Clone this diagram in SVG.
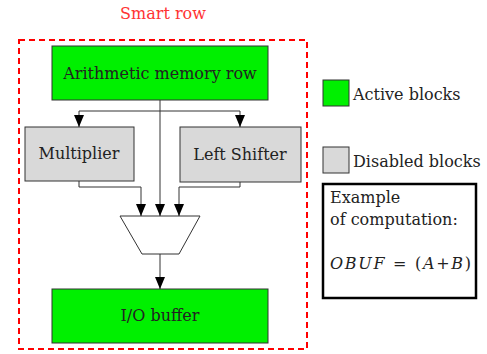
<svg xmlns="http://www.w3.org/2000/svg" width="487" height="354" viewBox="0 0 487 354">
<style>
text{font-family:'DejaVu Serif',serif;font-size:16px;fill:#222}
.g{fill:#00f000;stroke:#333;stroke-width:1}
.d{fill:#d9d9d9;stroke:#333;stroke-width:1}
.c{fill:none;stroke:#333;stroke-width:1}
</style>
<defs>
<marker id="ah" markerWidth="12" markerHeight="10" refX="12" refY="5" orient="auto" markerUnits="userSpaceOnUse" viewBox="0 0 12 10">
<path d="M0,0 L12,5 L0,10 Z" fill="#000"/>
</marker>
</defs>
<rect x="19" y="40" width="288" height="309" fill="none" stroke="#f00" stroke-width="2" stroke-dasharray="6,4"/>
<text x="163" y="19" text-anchor="middle" style="fill:#f33">Smart row</text>
<g id="arith"><rect class="g" x="52" y="46" width="216" height="54"/><text x="160" y="79" text-anchor="middle">Arithmetic memory row</text></g>
<g id="mult"><rect class="d" x="25" y="127" width="109" height="54"/><text x="79" y="159" text-anchor="middle">Multiplier</text></g>
<g id="shift"><rect class="d" x="180" y="127" width="121" height="55"/><text x="240" y="160" text-anchor="middle">Left Shifter</text></g>
<g id="mux"><path d="M120,216 L200,216 L179,254 L142,254 Z" fill="#fff" stroke="#333"/></g>
<g id="io"><rect class="g" x="52" y="289" width="216" height="54"/><text x="160" y="321" text-anchor="middle">I/O buffer</text></g>
<g id="connectors">
<path class="c" d="M160,100 V111 H79 V127" marker-end="url(#ah)"/>
<path class="c" d="M160,111 H240 V127" marker-end="url(#ah)"/>
<path class="c" d="M160,111 V216" marker-end="url(#ah)"/>
<path class="c" d="M79,181 V187 H141 V216" marker-end="url(#ah)"/>
<path class="c" d="M240,182 V187 H179 V216" marker-end="url(#ah)"/>
<path class="c" d="M160,254 V289" marker-end="url(#ah)"/>
</g>
<g id="legend-active"><rect class="g" x="323" y="80" width="26" height="26"/><text x="353" y="100">Active blocks</text></g>
<g id="legend-disabled"><rect class="d" x="323" y="147" width="26" height="26"/><text x="353" y="167">Disabled blocks</text></g>
<g id="example"><rect x="323" y="184" width="153" height="114" fill="#fff" stroke="#000" stroke-width="2.5"/>
<text x="330" y="203">Example</text>
<text x="330" y="225">of computation:</text>
<text x="330" y="269" textLength="141" lengthAdjust="spacing"><tspan font-style="italic">OBUF</tspan> = (<tspan font-style="italic">A</tspan>+<tspan font-style="italic">B</tspan>)</text></g>
</svg>
